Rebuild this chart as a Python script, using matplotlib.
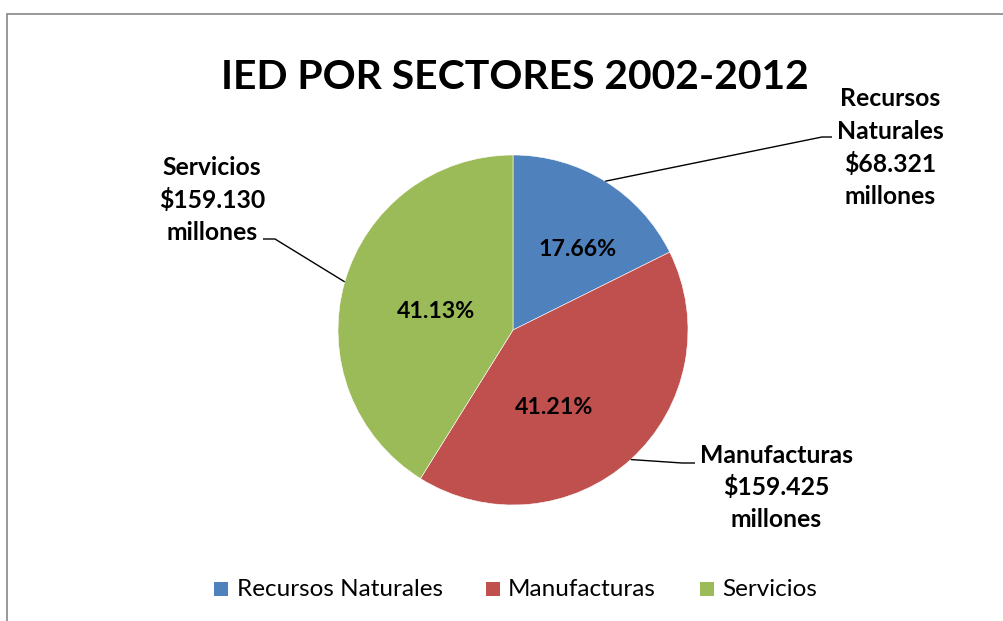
import numpy as np
import matplotlib
matplotlib.use("Agg")
import matplotlib.pyplot as plt
from matplotlib.patches import Rectangle

# ---- data ----
categories = ["Recursos Naturales", "Manufacturas", "Servicios"]
values = [68.321, 159.425, 159.130]          # millones
value_labels = ["$68.321", "$159.425", "$159.130"]
colors = ["#4F81BD", "#C0504D", "#9BBB59"]
title = "IED POR SECTORES 2002-2012"

W, H = 1004, 621
FONT = "Lato"

fig = plt.figure(figsize=(W / 100, H / 100), dpi=100)
fig.patch.set_facecolor("white")
ax = fig.add_axes([0, 0, 1, 1])
renderer = fig.canvas.get_renderer()


def Y(py):
    return H - py


def fit_size(s, target, weight):
    t = fig.text(0, 0, s, fontsize=20, fontweight=weight, family=FONT)
    w = t.get_window_extent(renderer).width
    t.remove()
    return 20 * target / w


cx, cy, R = 513, 330, 175
wedges, _ = ax.pie(values, colors=colors, startangle=90, counterclock=False,
                   center=(cx, Y(cy)), radius=R,
                   wedgeprops=dict(edgecolor="white", linewidth=0.4))
ax.set_xlim(0, W)
ax.set_ylim(0, H)
ax.set_aspect("auto")
ax.axis("off")

# border
fig.patches.append(Rectangle((7.5 / W, 0 - 0.01), 1.05, (H - 13.5) / H + 0.01,
                             transform=fig.transFigure, fill=False,
                             edgecolor="#868686", linewidth=1.2))

# title
ts = fit_size(title, 589, "bold")
ax.text(514.5, Y(89), title, ha="center", va="baseline", fontsize=ts,
        fontweight="bold", family=FONT, color="black")

# percentages
total = sum(values)
pct_pos = [(578, 249), (554, 408), (436, 311)]
ps = fit_size("17.66%", 78, "bold")
for v, (px, py) in zip(values, pct_pos):
    ax.text(px, Y(py), f"{100 * v / total:.2f}%", ha="center", va="center",
            fontsize=ps, fontweight="bold", family=FONT, color="black")

# outside labels with leader lines
ls = fit_size("Manufacturas", 153, "bold")
label_lines = [
    ["Recursos", "Naturales", value_labels[0], "millones"],
    ["Manufacturas", value_labels[1], "millones"],
    ["Servicios", value_labels[2], "millones"],
]
label_cx = [890.5, 776.5, 212]
label_base = [[106, 139, 172, 204], [463, 495, 527], [175, 208, 240]]
elbows = [((822, 137), (832, 137)), ((682, 463), (695, 463)), ((275, 239), (263, 239))]

for w, lines, lx, bases, (e1, e2) in zip(wedges, label_lines, label_cx, label_base, elbows):
    for s, b in zip(lines, bases):
        ax.text(lx, Y(b), s, ha="center", va="baseline", fontsize=ls,
                fontweight="bold", family=FONT, color="black")
    ang = np.deg2rad((w.theta1 + w.theta2) / 2)
    ax_x = cx + R * np.cos(ang)
    ax_y = Y(cy) + R * np.sin(ang)
    ax.plot([ax_x, e1[0], e2[0]], [ax_y, Y(e1[1]), Y(e2[1])], color="black",
            linewidth=1.0, solid_capstyle="butt")

# legend
lgs = fit_size("Recursos Naturales", 206, "normal")
sq_x = [214, 486, 700]
txt_x = [237, 508, 722]
for c, name, sx, tx in zip(colors, categories, sq_x, txt_x):
    ax.add_patch(Rectangle((sx, Y(596)), 14.5, 14.5, facecolor=c, edgecolor="none"))
    ax.text(tx, Y(589), name, ha="left", va="center", fontsize=lgs,
            family=FONT, color="black")

fig.savefig("out.png", dpi=100, facecolor="white")
